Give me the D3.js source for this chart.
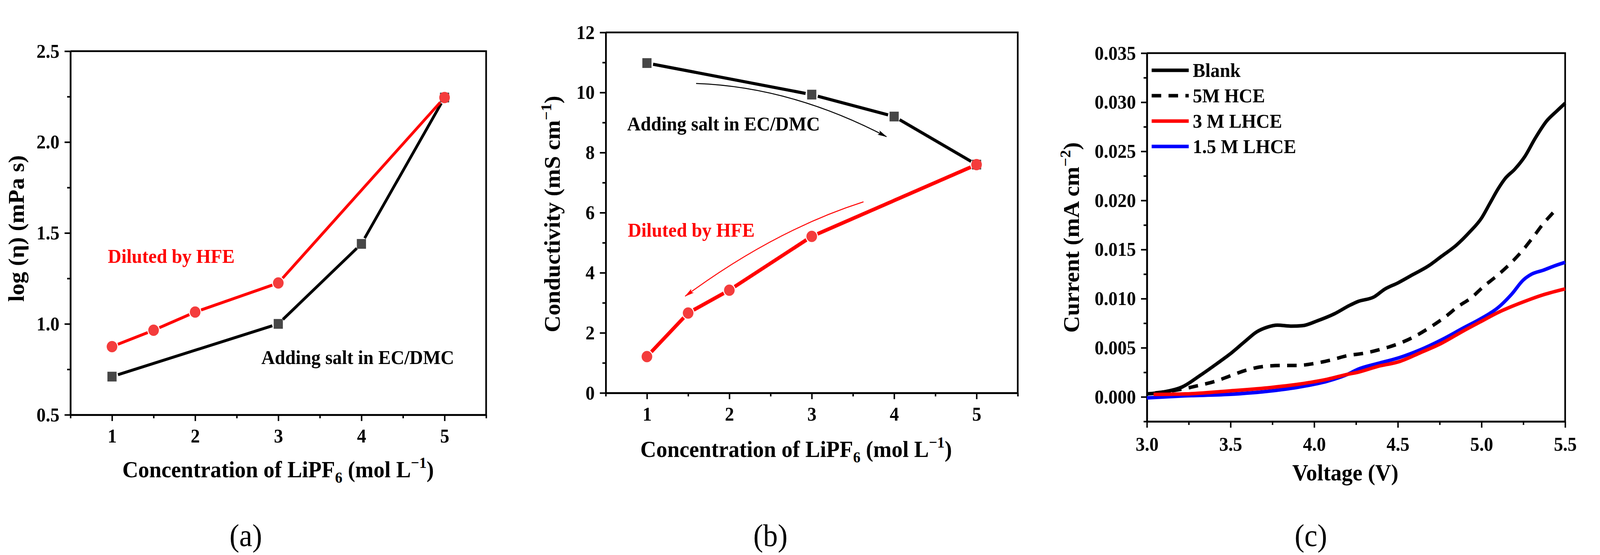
<!DOCTYPE html>
<html>
<head>
<meta charset="utf-8">
<script src="https://cdn.jsdelivr.net/npm/d3@7"></script>
<style>
  html, body { margin: 0; padding: 0; background: #fff; overflow: hidden; }
  svg { display: block; width: 100vw; height: 100vh; }
</style>
</head>
<body>
<script>
// panel (a): viscosity vs concentration
var viscDiluteConc = [1, 1.5, 2, 3, 5];
var viscDilute = [0.875, 0.965, 1.065, 1.225, 2.245];
var viscSaltConc = [1, 3, 4, 5];
var viscSalt = [0.71, 1.0, 1.44, 2.245];

// panel (b): conductivity vs concentration
var condSaltConc = [1, 3, 4, 5];
var condSalt = [10.98, 9.93, 9.2, 7.6];
var condDiluteConc = [1, 1.5, 2, 3, 5];
var condDilute = [1.21, 2.66, 3.42, 5.21, 7.6];

// panel (c): LSV curves, voltage / current
var blankV = [3.0, 3.1, 3.21, 3.32, 3.42, 3.5, 3.59, 3.655, 3.72, 3.78, 3.865, 3.93, 4.02, 4.12, 4.21, 4.26, 4.36, 4.42, 4.5, 4.59, 4.68, 4.76, 4.85, 4.93, 5.0, 5.05, 5.1, 5.14, 5.2, 5.26, 5.32, 5.39, 5.45, 5.5];
var blankI = [0.0003, 0.0005, 0.001, 0.0022, 0.0034, 0.0044, 0.0057, 0.0066, 0.0071, 0.0073, 0.0072, 0.00725, 0.00775, 0.00845, 0.0093, 0.0097, 0.0102, 0.01095, 0.0116, 0.01245, 0.0133, 0.0143, 0.01545, 0.0168, 0.0182, 0.0197, 0.0212, 0.0222, 0.0232, 0.0245, 0.0263, 0.0281, 0.0291, 0.0299];
var hceV = [3.05, 3.18, 3.32, 3.42, 3.5, 3.6, 3.7, 3.8, 3.9, 4.0, 4.1, 4.2, 4.3, 4.41, 4.51, 4.6, 4.685, 4.78, 4.86, 4.94, 5.01, 5.09, 5.165, 5.24, 5.31, 5.37, 5.43, 5.455];
var hceI = [0.0004, 0.0007, 0.0012, 0.00165, 0.00215, 0.00275, 0.0031, 0.0032, 0.0032, 0.0034, 0.00375, 0.0042, 0.00445, 0.0049, 0.00545, 0.00615, 0.007, 0.0081, 0.0092, 0.0101, 0.0112, 0.0123, 0.01345, 0.0148, 0.0163, 0.01765, 0.0188, 0.0193];
var lhce3V = [3.04, 3.23, 3.49, 3.74, 3.91, 4.08, 4.2, 4.26, 4.38, 4.51, 4.635, 4.76, 4.89, 5.0, 5.1, 5.18, 5.27, 5.37, 5.5];
var lhce3I = [0.00025, 0.0003, 0.0006, 0.00095, 0.0013, 0.0018, 0.0023, 0.0025, 0.0031, 0.0036, 0.0045, 0.00545, 0.0067, 0.0077, 0.0086, 0.0092, 0.0098, 0.0104, 0.011];
var lhce15V = [3.0, 3.23, 3.49, 3.74, 3.91, 4.08, 4.2, 4.26, 4.38, 4.51, 4.635, 4.76, 4.89, 5.0, 5.1, 5.18, 5.25, 5.3, 5.37, 5.43, 5.5];
var lhce15I = [-0.0001, 0.0001, 0.00025, 0.0006, 0.001, 0.0016, 0.0023, 0.0028, 0.0034, 0.004, 0.0048, 0.0058, 0.007, 0.008, 0.0091, 0.01045, 0.0119, 0.0125, 0.0129, 0.0133, 0.0137];

var legendNames = ["Blank", "5M HCE", "3 M LHCE", "1.5 M LHCE"];
var panelLabels = ["(a)", "(b)", "(c)"];

var serif = "'Liberation Serif', 'Times New Roman', serif";
var redLine = "#ff0000", redDot = "#f43c3c", greySq = "#474747";

// the drawing keeps the 4361x1421 layout, scaled to whatever the viewport is
var svg = d3.select("body")
  .append("svg")
  .attr("viewBox", "0 0 4361 1421")
  .attr("preserveAspectRatio", "none");

svg.append("rect").attr("width", 4361).attr("height", 1421).attr("fill", "#fff");

// arrow heads for the panel (b) annotations
var defs = svg.append("defs");
[["arrowBlack", "#000"], ["arrowRed", redLine]].forEach(function(a) {
  defs.append("marker")
    .attr("id", a[0])
    .attr("markerUnits", "userSpaceOnUse")
    .attr("viewBox", "0 -8 26 16")
    .attr("refX", 24).attr("refY", 0)
    .attr("markerWidth", 26).attr("markerHeight", 16)
    .attr("orient", "auto")
    .append("path")
    .attr("d", "M0,-6L26,0L0,6L5,0Z")
    .attr("fill", a[1]);
});

function styleAxis(sel) {
  sel.select(".domain").attr("stroke-width", 4.5).attr("stroke", "#000");
  sel.selectAll(".tick line").attr("stroke-width", 4).attr("stroke", "#000");
  sel.selectAll("text")
    .attr("font-family", serif)
    .attr("font-weight", "bold")
    .attr("font-size", 50)
    .attr("fill", "#000");
}

function makePanel(p) {
  var x = d3.scaleLinear().domain(p.xDomain).range([p.left, p.right]);
  var y = d3.scaleLinear().domain(p.yDomain).range([p.bottom, p.top]);
  var g = svg.append("g");

  g.append("g")
    .attr("transform", `translate(0, ${p.bottom})`)
    .call(d3.axisBottom(x).tickValues(p.xMinor).tickSize(9).tickSizeOuter(0).tickFormat(""))
    .call(styleAxis);
  g.append("g")
    .attr("transform", `translate(0, ${p.bottom})`)
    .call(d3.axisBottom(x).tickValues(p.xTicks).tickSize(16).tickSizeOuter(0).tickPadding(p.xPad).tickFormat(p.xFormat))
    .call(styleAxis);
  g.append("g")
    .attr("transform", `translate(${p.left}, 0)`)
    .call(d3.axisLeft(y).tickValues(p.yMinor).tickSize(9).tickSizeOuter(0).tickFormat(""))
    .call(styleAxis);
  g.append("g")
    .attr("transform", `translate(${p.left}, 0)`)
    .call(d3.axisLeft(y).tickValues(p.yTicks).tickSize(16).tickSizeOuter(0).tickPadding(14).tickFormat(p.yFormat))
    .call(styleAxis);

  // top and right frame
  g.append("path")
    .attr("d", `M${p.left},${p.top}H${p.right}V${p.bottom}`)
    .attr("fill", "none")
    .attr("stroke", "#000")
    .attr("stroke-width", 4.5);

  return { g: g, x: x, y: y };
}

function axisTitle(g, xPos, yPos, rotate, parts) {
  var t = g.append("text")
    .attr("transform", `translate(${xPos}, ${yPos})` + (rotate ? " rotate(-90)" : ""))
    .attr("text-anchor", "middle")
    .attr("font-family", serif)
    .attr("font-weight", "bold")
    .attr("font-size", 60)
    .attr("fill", "#000");
  parts.forEach(function(s) {
    var ts = t.append("tspan").text(s[0]);
    if (s[1] == "sub") ts.attr("font-size", 40).attr("baseline-shift", -14);
    if (s[1] == "sup") ts.attr("font-size", 40).attr("baseline-shift", 24);
  });
}

function label(g, xPos, yPos, txt, color) {
  g.append("text")
    .attr("x", xPos).attr("y", yPos)
    .attr("font-family", serif)
    .attr("font-weight", "bold")
    .attr("font-size", 51)
    .attr("fill", color)
    .text(txt);
}

// line + symbols, segments stop short of each symbol like the original plot
var GAP = 17;
function series(pan, xs, ys, color, width, marker) {
  var pts = xs.map((d, i) => [pan.x(d), pan.y(ys[i])]);
  var segs = d3.pairs(pts).map(function(s) {
    var dx = s[1][0] - s[0][0], dy = s[1][1] - s[0][1];
    var len = Math.sqrt(dx * dx + dy * dy);
    var ux = dx / len, uy = dy / len;
    return [s[0][0] + ux * GAP, s[0][1] + uy * GAP, s[1][0] - ux * GAP, s[1][1] - uy * GAP];
  });
  pan.g.selectAll(null).data(segs).enter().append("line")
    .attr("x1", d => d[0]).attr("y1", d => d[1])
    .attr("x2", d => d[2]).attr("y2", d => d[3])
    .attr("stroke", color)
    .attr("stroke-width", width);
  if (marker == "square") {
    pan.g.selectAll(null).data(pts).enter().append("rect")
      .attr("x", d => d[0] - 12.5)
      .attr("y", d => d[1] - 12.5)
      .attr("width", 25).attr("height", 25)
      .attr("fill", greySq);
  } else {
    pan.g.selectAll(null).data(pts).enter().append("circle")
      .attr("cx", d => d[0])
      .attr("cy", d => d[1])
      .attr("r", 14.5)
      .attr("fill", redDot);
  }
}

var concTicks = [1, 2, 3, 4, 5];
var concMinor = [0.5, 1.5, 2.5, 3.5, 4.5, 5.5];
var concTitle = [["Concentration of LiPF"], ["6", "sub"], [" (mol L"], ["\u22121", "sup"], [")"]];

// ---- (a) ----
var pa = makePanel({
  left: 192, right: 1325, top: 131, bottom: 1062,
  xDomain: [0.5, 5.5], yDomain: [0.5, 2.5],
  xTicks: concTicks, xMinor: concMinor, xFormat: d3.format("d"), xPad: 20,
  yTicks: [0.5, 1.0, 1.5, 2.0, 2.5], yMinor: [0.75, 1.25, 1.75, 2.25], yFormat: d3.format(".1f")
});
series(pa, viscSaltConc, viscSalt, "#000", 7.5, "square");
series(pa, viscDiluteConc, viscDilute, redLine, 7.5, "circle");
label(pa.g, pa.x(0.95), pa.y(1.336), "Diluted by HFE", redLine);
label(pa.g, pa.x(2.796), pa.y(0.779), "Adding salt in EC/DMC", "#000");
axisTitle(pa.g, 758, 1222, false, concTitle);
axisTitle(pa.g, 65, 585, true, [["log (\u03b7) (mPa s)"]]);

// ---- (b) ----
var pb = makePanel({
  left: 1651, right: 2774, top: 83, bottom: 1006,
  xDomain: [0.5, 5.5], yDomain: [0, 12],
  xTicks: concTicks, xMinor: concMinor, xFormat: d3.format("d"), xPad: 20,
  yTicks: [0, 2, 4, 6, 8, 10, 12], yMinor: [1, 3, 5, 7, 9, 11], yFormat: d3.format("d")
});
series(pb, condSaltConc, condSalt, "#000", 8, "square");
series(pb, condDiluteConc, condDilute, redLine, 9.5, "circle");
label(pb.g, pb.x(0.76), pb.y(8.74), "Adding salt in EC/DMC", "#000");
label(pb.g, pb.x(0.768), pb.y(5.2), "Diluted by HFE", redLine);

// curved arrows, in data units: start, control, end
var arrowSalt = [[1.597, 10.3], [2.75, 10.19], [3.906, 8.53]];
var arrowDilute = [[3.628, 6.36], [2.546, 5.41], [1.465, 3.22]];
[[arrowSalt, "#000", "arrowBlack"], [arrowDilute, redLine, "arrowRed"]].forEach(function(a) {
  var q = a[0].map(d => [pb.x(d[0]), pb.y(d[1])]);
  pb.g.append("path")
    .attr("d", `M${q[0][0]},${q[0][1]}Q${q[1][0]},${q[1][1]} ${q[2][0]},${q[2][1]}`)
    .attr("fill", "none")
    .attr("stroke", a[1])
    .attr("stroke-width", 2.5)
    .attr("marker-end", `url(#${a[2]})`);
});
axisTitle(pb.g, 2170, 1170, false, concTitle);
axisTitle(pb.g, 1526, 548, true, [["Conductivity (mS cm"], ["\u22121", "sup"], [")"]]);

// ---- (c) ----
var pc = makePanel({
  left: 3126, right: 4266, top: 136, bottom: 1079,
  xDomain: [3.0, 5.5], yDomain: [-0.0025, 0.035],
  xTicks: [3.0, 3.5, 4.0, 4.5, 5.0, 5.5], xMinor: [3.25, 3.75, 4.25, 4.75, 5.25], xFormat: d3.format(".1f"), xPad: 24,
  yTicks: [0, 0.005, 0.01, 0.015, 0.02, 0.025, 0.03, 0.035],
  yMinor: [-0.0025, 0.0025, 0.0075, 0.0125, 0.0175, 0.0225, 0.0275, 0.0325], yFormat: d3.format(".3f")
});

var lsv = [
  [blankV, blankI, "#000", null],
  [hceV, hceI, "#000", "26,20"],
  [lhce15V, lhce15I, "#0000ff", null],
  [lhce3V, lhce3I, redLine, null]
];
var lineC = d3.line().curve(d3.curveMonotoneX).x(d => pc.x(d[0])).y(d => pc.y(d[1]));
lsv.forEach(function(s) {
  pc.g.append("path")
    .datum(s[0].map((d, i) => [d, s[1][i]]))
    .attr("fill", "none")
    .attr("stroke", s[2])
    .attr("stroke-width", 9)
    .attr("stroke-dasharray", s[3])
    .attr("d", lineC);
});

// legend
var legendColors = ["#000", "#000", redLine, "#0000ff"];
var legendDash = [null, "26,20", null, null];
legendNames.forEach(function(name, i) {
  var ly = 180 + i * 65;
  pc.g.append("line")
    .attr("x1", 3139).attr("x2", 3240)
    .attr("y1", ly).attr("y2", ly)
    .attr("stroke", legendColors[i])
    .attr("stroke-width", 9)
    .attr("stroke-dasharray", legendDash[i]);
  pc.g.append("text")
    .attr("x", 3251).attr("y", ly)
    .attr("dy", "0.34em")
    .attr("font-family", serif)
    .attr("font-weight", "bold")
    .attr("font-size", 51)
    .text(name);
});
axisTitle(pc.g, 3667, 1230, false, [["Voltage (V)"]]);
axisTitle(pc.g, 2941, 608, true, [["Current (mA cm"], ["\u22122", "sup"], [")"]]);

// panel letters
var labelX = [670, 2100, 3573];
panelLabels.forEach(function(t, i) {
  svg.append("text")
    .attr("x", labelX[i]).attr("y", 1398)
    .attr("text-anchor", "middle")
    .attr("font-family", serif)
    .attr("font-size", 80)
    .attr("fill", "#000")
    .text(t);
});
</script>
</body>
</html>
